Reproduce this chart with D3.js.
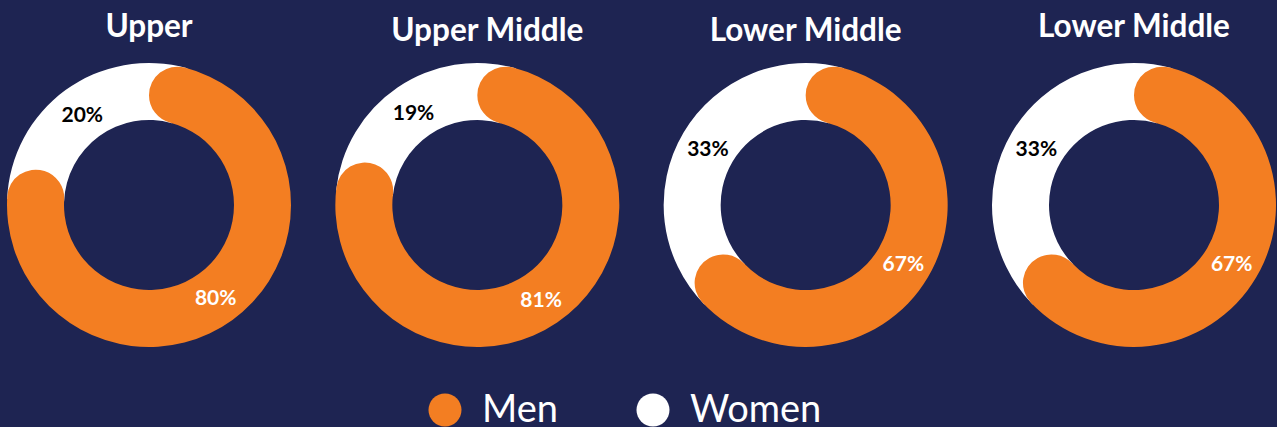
<!DOCTYPE html>
<html>
<head>
<meta charset="utf-8">
<script src="https://cdn.jsdelivr.net/npm/d3@7"></script>
<style>
  html, body { margin: 0; padding: 0; background: #1e2452; }
  svg { display: block; }
</style>
</head>
<body>
<svg width="1277" height="427"></svg>
<script>
//data
const groups = ["Upper", "Upper Middle", "Lower Middle", "Lower Middle"];
const menShare = [80, 81, 67, 67];
const womenShare = [20, 19, 33, 33];
const seriesNames = ["Men", "Women"];
const seriesColors = ["#f37e22", "#ffffff"];
const labelColors = ["#ffffff", "#000000"];

//layout
const svgWidth = 1277;
const svgHeight = 427;
const cy = 205;
const outerR = 142;
const innerR = 85;
const capR = (outerR - innerR) / 2;
const titleY = [37, 41, 41, 37];
const titleDx = [0, 10, 0, 0];

const svg = d3.select("svg");

svg.append("rect")
  .attr("width", svgWidth)
  .attr("height", svgHeight)
  .attr("fill", "#1e2452");

var xScale = d3.scalePoint()
  .domain(d3.range(groups.length))
  .range([149, 1134]);

var pie = d3.pie()
  .sort(null)
  .value(d => d.value);

var arc = d3.arc()
  .innerRadius(innerR)
  .outerRadius(outerR);

var roundArc = d3.arc()
  .innerRadius(innerR)
  .outerRadius(outerR)
  .cornerRadius(capR);

//angle the rounded cap leaves open at the outer edge
var capAngle = Math.asin(capR / (innerR + capR)) + 0.02;

groups.forEach((name, i) => {
  var slices = pie([
    {"key": 0, "value": menShare[i]},
    {"key": 1, "value": womenShare[i]}
  ]);

  var g = svg.append("g")
    .attr("transform", `translate(${xScale(i)}, ${cy})`);

  //women slice sits behind, widened under the men caps
  var w = slices[1];
  g.append("path")
    .attr("fill", seriesColors[1])
    .attr("d", arc({"startAngle": w.startAngle - capAngle, "endAngle": w.endAngle + capAngle}));

  var m = slices[0];
  g.append("path")
    .attr("fill", seriesColors[0])
    .attr("d", roundArc(m));

  g.selectAll("text.lbl")
    .data(slices)
    .enter()
    .append("text")
      .attr("class", "lbl")
      .attr("transform", d => `translate(${arc.centroid(d)})`)
      .attr("text-anchor", "middle")
      .attr("dominant-baseline", "central")
      .attr("fill", d => labelColors[d.data.key])
      .style("font-family", "Lato, sans-serif")
      .style("font-weight", "bold")
      .style("font-size", "21px")
      .text(d => d.data.value + "%");

  svg.append("text")
    .attr("x", xScale(i) + titleDx[i])
    .attr("y", titleY[i])
    .attr("text-anchor", "middle")
    .attr("fill", "#ffffff")
    .style("font-family", "Lato, sans-serif")
    .style("font-weight", "bold")
    .style("font-size", "31.5px")
    .text(name);
});

//legend
var legendX = [445, 653];
var legend = svg.selectAll("g.legend")
  .data(seriesNames)
  .enter()
  .append("g")
    .attr("class", "legend")
    .attr("transform", (d, i) => `translate(${legendX[i]}, 410)`);

legend.append("circle")
  .attr("r", 16.5)
  .attr("fill", (d, i) => seriesColors[i]);

legend.append("text")
  .attr("x", 37)
  .attr("y", 12)
  .attr("fill", "#ffffff")
  .style("font-family", "Lato, sans-serif")
  .style("font-size", "38px")
  .text(d => d);
</script>
</body>
</html>
